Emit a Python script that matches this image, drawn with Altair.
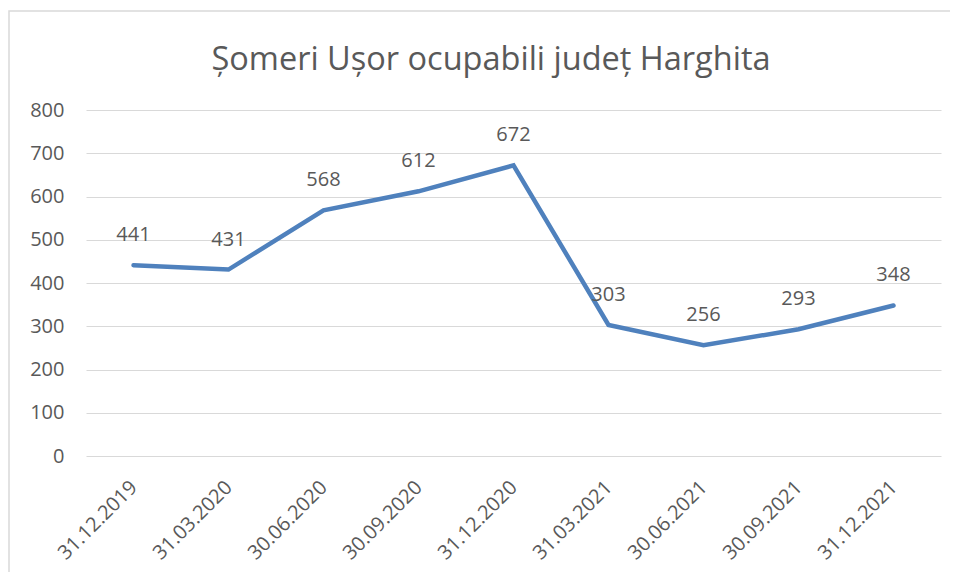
import altair as alt
import pandas as pd

dates = ["31.12.2019", "31.03.2020", "30.06.2020", "30.09.2020", "31.12.2020",
         "31.03.2021", "30.06.2021", "30.09.2021", "31.12.2021"]
values = [441, 431, 568, 612, 672, 303, 256, 293, 348]
title_text = "Șomeri Ușor ocupabili județ Harghita"

df = pd.DataFrame({"data": dates, "valoare": values})

FONT = "Open Sans"
TXT = "#595959"

x = alt.X("data:N", sort=dates, title=None,
          scale=alt.Scale(type="point", padding=0.5),
          axis=alt.Axis(labelAngle=-45, labelAlign="right", labelBaseline="middle",
                        labelFontSize=20, labelColor=TXT, labelFont=FONT,
                        labelPadding=28, ticks=False, domain=False, grid=False))
y = alt.Y("valoare:Q", title=None,
          scale=alt.Scale(domain=[0, 800]),
          axis=alt.Axis(values=list(range(0, 801, 100)), labelFontSize=20,
                        labelColor=TXT, labelFont=FONT, labelPadding=22,
                        ticks=False, domain=False, gridColor="#D9D9D9",
                        gridWidth=1.2))

base = alt.Chart(df)

line = base.mark_line(color="#4F81BD", strokeWidth=4.5, strokeCap="round",
                      strokeJoin="miter").encode(x=x, y=y)
labels = base.mark_text(dy=-24, fontSize=20, font=FONT, color=TXT,
                        baseline="alphabetic").encode(x=x, y=y, text="valoare:Q")

border = alt.Chart(pd.DataFrame({"a": [0]})).mark_rect(
    fill=None, stroke="#D9D9D9", strokeWidth=1.5
).encode(x=alt.value(-77), x2=alt.value(960), y=alt.value(-99), y2=alt.value(600))

title = alt.Chart(pd.DataFrame({"t": [title_text]})).mark_text(
    fontSize=32.5, font=FONT, color=TXT, align="center", baseline="alphabetic"
).encode(x=alt.value(405), y=alt.value(-40), text="t:N")

chart = alt.layer(border, title, line, labels).properties(
    width=855, height=346,
    autosize=alt.AutoSizeParams(type="none"),
    padding={"left": 78, "top": 102, "right": 9, "bottom": 116},
).configure_view(stroke=None)

chart.save("out.html", embed_options={"renderer": "svg", "actions": False})
